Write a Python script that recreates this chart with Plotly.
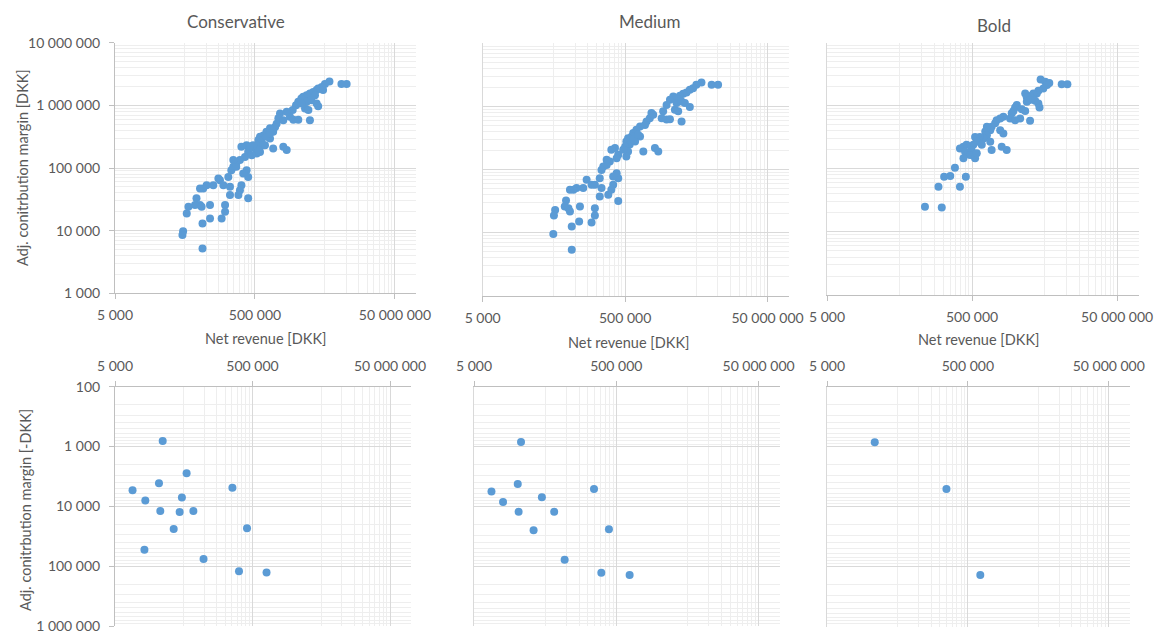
import math
import plotly.graph_objects as go

# ---------------- data ----------------
panel_titles = ["Conservative", "Medium", "Bold"]
x_title = "Net revenue [DKK]"
y_title_top = "Adj. conitrbution margin [DKK]"
y_title_bottom = "Adj. conitrbution margin [-DKK]"

x_tick_vals = [5000, 500000, 50000000]
x_tick_text = ["5 000", "500 000", "50 000 000"]
y_top_tick_vals = [1000, 10000, 100000, 1000000, 10000000]
y_top_tick_text = ["1 000", "10 000", "100 000", "1 000 000", "10 000 000"]
y_bot_tick_vals = [100, 1000, 10000, 100000, 1000000]
y_bot_tick_text = ["100", "1 000", "10 000", "100 000", "1 000 000"]

# Positive contribution margin (top row)
cons_rev = [8600000, 10200000, 5800000, 5000000, 4500000, 4000000, 3800000, 3400000, 3050000, 2740000,
            2450000, 2300000, 2080000, 1930000, 2740000, 3200000, 3800000, 4000000, 2600000, 2900000,
            1730000, 1580000, 1770000, 2080000, 3050000, 1140000, 1080000, 1020000, 970000, 820000,
            730000, 660000, 590000, 560000, 620000, 530000, 500000, 530000, 590000, 695000,
            820000, 910000, 1270000, 1420000, 380000, 320000, 400000, 360000, 305000, 270000,
            245000, 230000, 208000, 380000, 400000, 340000, 158000, 150000, 127000, 102000,
            91000, 82000, 177000, 220000, 320000, 305000, 290000, 220000, 400000, 73000,
            69500, 82000, 86500, 114000, 187000, 187000, 56000, 53000, 114000, 167000,
            89000, 47000, 46000, 89000, 2300000, 4700000, 1420000, 1270000, 730000, 660000,
            560000, 470000, 425000, 270000, 245000, 910000, 3600000, 820000, 450000]
cons_cm = [2200000, 2200000, 2400000, 2200000, 1970000, 1860000, 1750000, 1640000, 1550000, 1450000,
           1370000, 1290000, 1140000, 1000000, 1140000, 1210000, 1070000, 970000, 890000, 840000,
           840000, 660000, 590000, 590000, 580000, 740000, 620000, 510000, 450000, 430000,
           380000, 330000, 315000, 280000, 260000, 230000, 205000, 170000, 180000, 230000,
           296000, 205000, 218000, 193000, 230000, 218000, 180000, 150000, 134000, 118000,
           105000, 92000, 72000, 92000, 72000, 82000, 64000, 68000, 53000, 53000,
           47000, 47000, 53000, 50000, 53000, 44000, 37000, 37000, 33000, 33000,
           25600, 25600, 24000, 25600, 25600, 20000, 24000, 18800, 15700, 15700,
           13000, 9800, 8500, 5200, 1070000, 1750000, 790000, 580000, 315000, 230000,
           193000, 230000, 218000, 105000, 134000, 380000, 1450000, 360000, 160000]

med_rev = [8200000, 10100000, 5900000, 5000000, 4500000, 4050000, 3640000, 3270000, 2940000, 2640000,
           2370000, 2130000, 1910000, 2640000, 3100000, 3450000, 4050000, 2500000, 2780000, 1710000,
           1630000, 1910000, 2130000, 3100000, 1170000, 1110000, 1000000, 950000, 810000, 720000,
           650000, 620000, 550000, 520000, 580000, 500000, 550000, 520000, 690000, 810000,
           900000, 1310000, 1460000, 360000, 320000, 400000, 380000, 305000, 275000, 247000,
           233000, 220000, 380000, 400000, 340000, 144000, 169000, 129000, 104000, 94000,
           84000, 188000, 233000, 340000, 320000, 290000, 220000, 400000, 74000, 71000,
           80000, 84000, 116000, 188000, 188000, 52000, 50000, 113000, 169000, 89000,
           49000, 89000, 650000, 760000, 470000, 275000, 1240000]
med_cm = [2200000, 2200000, 2400000, 2200000, 1950000, 1840000, 1670000, 1590000, 1480000, 1360000,
          1440000, 1280000, 1060000, 1130000, 1200000, 1130000, 980000, 890000, 840000, 840000,
          650000, 620000, 630000, 580000, 790000, 650000, 580000, 510000, 480000, 430000,
          380000, 335000, 315000, 280000, 250000, 230000, 194000, 162000, 280000, 335000,
          194000, 220000, 194000, 220000, 206000, 172000, 152000, 135000, 119000, 112000,
          99000, 73000, 88000, 73000, 78000, 69000, 57500, 51000, 51000, 48000,
          48000, 57500, 51000, 57500, 48000, 40000, 37600, 32000, 32400, 26000,
          24500, 21700, 26000, 24500, 18800, 23000, 18800, 15100, 14600, 12600,
          9600, 5400, 297000, 356000, 206000, 143000, 740000]

bold_rev = [8600000, 10300000, 4400000, 5100000, 5800000, 5400000, 4800000, 4100000, 3900000, 3500000,
            3150000, 2700000, 2840000, 3100000, 2840000, 3700000, 4100000, 4250000, 2070000, 1960000,
            1860000, 1760000, 2420000, 2700000, 1670000, 1960000, 2300000, 3150000, 1350000, 1220000,
            1090000, 1040000, 930000, 890000, 800000, 760000, 800000, 720000, 640000, 610000,
            550000, 580000, 520000, 490000, 420000, 380000, 340000, 400000, 445000, 470000,
            550000, 580000, 680000, 890000, 930000, 1280000, 1500000, 1220000, 1350000, 380000,
            290000, 250000, 206000, 410000, 340000, 172000, 112000, 191000]
bold_cm = [2200000, 2200000, 2600000, 2400000, 2300000, 2130000, 1880000, 1730000, 1570000, 1570000,
           1430000, 1570000, 1360000, 1230000, 1160000, 1200000, 1090000, 940000, 1030000, 940000,
           830000, 760000, 880000, 830000, 630000, 590000, 630000, 580000, 670000, 630000,
           590000, 530000, 466000, 410000, 466000, 390000, 340000, 304000, 320000, 286000,
           320000, 270000, 240000, 199000, 240000, 224000, 210000, 187000, 176000, 166000,
           147000, 176000, 240000, 270000, 199000, 224000, 199000, 410000, 365000, 147000,
           104000, 77000, 75000, 75000, 52000, 52000, 25000, 24500]

# Negative contribution margin (bottom row, shown as -DKK)
cons_neg_rev = [24700, 55000, 21800, 255000, 9000, 47000, 13800, 22800, 43600, 69000,
                35700, 416000, 13400, 97000, 318000, 800000]
cons_neg_cm = [810, 2800, 4100, 4900, 5400, 7100, 8000, 12000, 12400, 12000,
               24000, 23300, 53000, 76000, 122000, 127000]
med_neg_rev = [22900, 20600, 8800, 243000, 45000, 12800, 21200, 67000, 34400, 394000,
               94000, 308000, 770000]
med_neg_cm = [835, 4200, 5600, 5100, 7000, 8400, 12300, 12300, 25000, 24000,
              78000, 128000, 140000]
bold_neg_rev = [23800, 248000, 750000]
bold_neg_cm = [847, 5100, 138000]

# ---------------- style ----------------
W, H = 1173, 636
BLUE = "#5B9BD5"
TXT = "#595959"
FONT = "Lato"
MAJOR = "#d9d9d9"
MINOR = "#eeeeee"
AXIS = "#bfbfbf"

x_minor = [5e4 * k for k in range(1, 10)] + [5e6 * k for k in range(1, 10)]
y_minor = [k * 10 ** e for e in range(2, 7) for k in range(2, 10)]


def xdom(a, b):
    return [a / W, b / W]


def ydom(top, bottom):
    return [1 - bottom / H, 1 - top / H]


# pixel frames: (left, right, top, bottom)
frames = [
    (115, 416, 42.7, 293.3),
    (482.7, 789, 43.3, 296),
    (827, 1139, 42.7, 295),
    (115, 410.7, 386.7, 626),
    (474, 780, 387, 626),
    (827, 1130, 386.7, 626.5),
]

series = [
    (cons_rev, cons_cm), (med_rev, med_cm), (bold_rev, bold_cm),
    (cons_neg_rev, cons_neg_cm), (med_neg_rev, med_neg_cm), (bold_neg_rev, bold_neg_cm),
]

fig = go.Figure()
layout = dict(
    width=W, height=H,
    margin=dict(l=0, r=0, t=0, b=0, autoexpand=False),
    paper_bgcolor="white", plot_bgcolor="white",
    showlegend=False,
    font=dict(family=FONT, size=14, color=TXT),
)

for i, ((l, r, t, b), (xs, ys)) in enumerate(zip(frames, series)):
    n = i + 1
    xname = "x" if n == 1 else f"x{n}"
    yname = "y" if n == 1 else f"y{n}"
    fig.add_trace(go.Scatter(
        x=xs, y=ys, mode="markers",
        marker=dict(color=BLUE, size=8, line=dict(width=0)),
        xaxis=xname, yaxis=yname, hoverinfo="x+y",
    ))
    top_row = i < 3
    first_col = i % 3 == 0
    xa = dict(
        type="log", domain=xdom(l, r), anchor=yname,
        range=[math.log10(5000), 8],
        tickmode="array", tickvals=x_tick_vals, ticktext=x_tick_text,
        showgrid=True, gridcolor=MAJOR, gridwidth=1,
        minor=dict(tickmode="array", tickvals=x_minor, showgrid=True,
                   gridcolor=MINOR, gridwidth=1, ticks=""),
        showline=True, linecolor=AXIS, linewidth=1,
        ticks="outside", ticklen=5, tickcolor=AXIS,
        tickfont=dict(family=FONT, size=14, color=TXT),
        ticklabelstandoff=4,
        zeroline=False, fixedrange=True, automargin=False,
        side="bottom" if top_row else "top",
    )
    ya = dict(
        type="log", domain=ydom(t, b), anchor=xname,
        range=[3, 7] if top_row else [6, 2],
        tickmode="array",
        tickvals=y_top_tick_vals if top_row else y_bot_tick_vals,
        ticktext=y_top_tick_text if top_row else y_bot_tick_text,
        showticklabels=first_col,
        showgrid=True, gridcolor=MAJOR, gridwidth=1,
        minor=dict(tickmode="array", tickvals=y_minor, showgrid=True,
                   gridcolor=MINOR, gridwidth=1, ticks=""),
        showline=True, linecolor=AXIS if first_col else MAJOR, linewidth=1,
        ticks="outside" if first_col else "", ticklen=5, tickcolor=AXIS,
        tickfont=dict(family=FONT, size=14, color=TXT),
        ticklabelstandoff=6,
        zeroline=False, fixedrange=True, automargin=False,
    )
    layout["xaxis" if n == 1 else f"xaxis{n}"] = xa
    layout["yaxis" if n == 1 else f"yaxis{n}"] = ya

annotations = []
title_pos = [(236, 22), (650, 21), (994, 25)]
for txt, (cx, cy) in zip(panel_titles, title_pos):
    annotations.append(dict(text=txt, x=cx / W, y=1 - cy / H, xref="paper", yref="paper",
                            showarrow=False, xanchor="center", yanchor="middle",
                            font=dict(family=FONT, size=17, color=TXT)))
xt_pos = [(265, 338), (628, 342), (978, 339)]
for cx, cy in xt_pos:
    annotations.append(dict(text=x_title, x=cx / W, y=1 - cy / H, xref="paper", yref="paper",
                            showarrow=False, xanchor="center", yanchor="middle",
                            font=dict(family=FONT, size=14.5, color=TXT)))
annotations.append(dict(text=y_title_top, x=23 / W, y=1 - 168 / H, xref="paper", yref="paper",
                        showarrow=False, textangle=-90, xanchor="center", yanchor="middle",
                        font=dict(family=FONT, size=14.5, color=TXT)))
annotations.append(dict(text=y_title_bottom, x=25 / W, y=1 - 510 / H, xref="paper", yref="paper",
                        showarrow=False, textangle=-90, xanchor="center", yanchor="middle",
                        font=dict(family=FONT, size=14.5, color=TXT)))
layout["annotations"] = annotations

fig.update_layout(**layout)
fig.write_html("out.html")
